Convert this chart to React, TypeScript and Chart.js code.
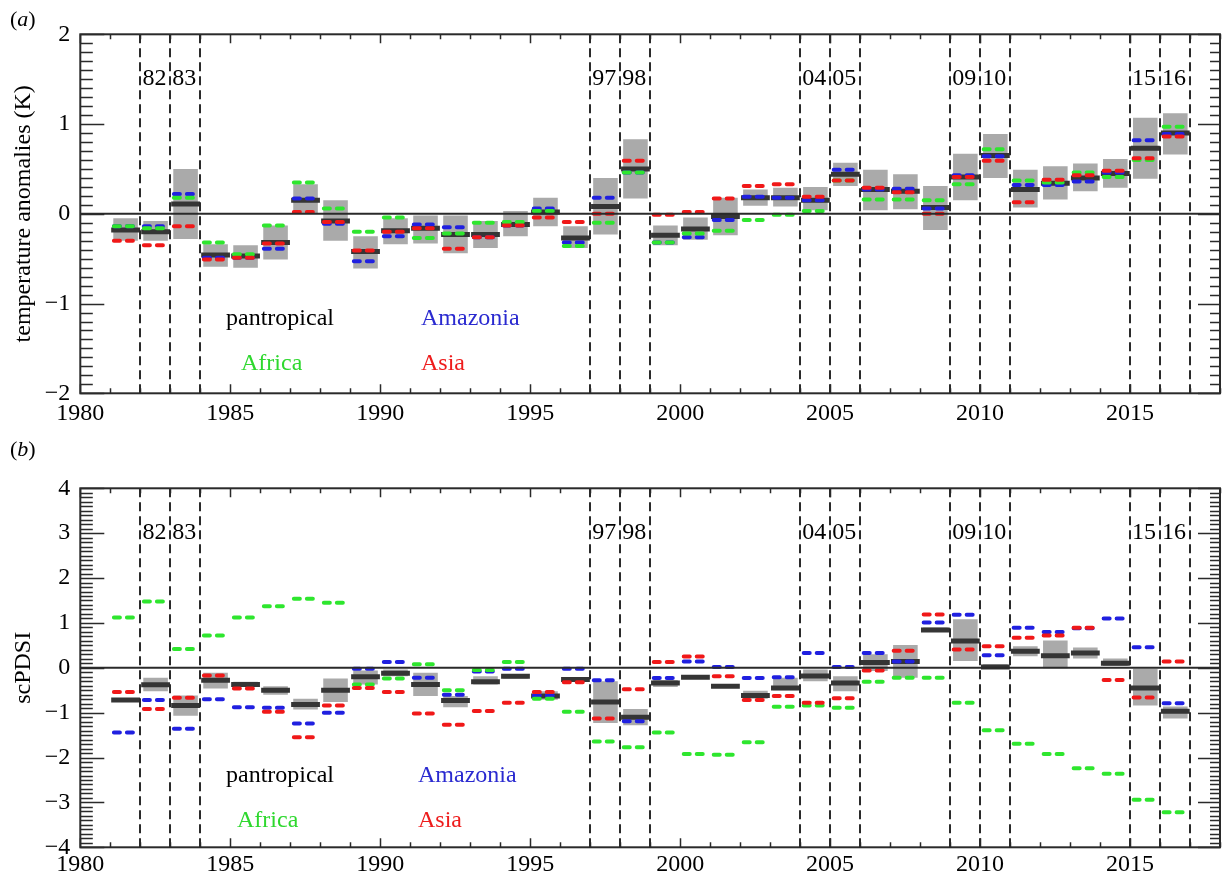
import React, { useEffect, useRef } from 'react';
import { Chart, registerables } from 'chart.js';

Chart.register(...registerables);

const FONT = "'Liberation Serif', 'DejaVu Serif', Tinos, 'Times New Roman', Times, serif";

// ---------------- data ----------------
const YEARS = [
  1981, 1982, 1983, 1984, 1985, 1986, 1987, 1988, 1989, 1990, 1991, 1992,
  1993, 1994, 1995, 1996, 1997, 1998, 1999, 2000, 2001, 2002, 2003, 2004,
  2005, 2006, 2007, 2008, 2009, 2010, 2011, 2012, 2013, 2014, 2015, 2016,
];
const EVENT_YEARS = [1982, 1983, 1997, 1998, 2004, 2005, 2009, 2010, 2015, 2016];
const X_TICKS = [1980, 1985, 1990, 1995, 2000, 2005, 2010, 2015];
const TEMP_Y_TICKS = [-2, -1, 0, 1, 2];
const PDSI_Y_TICKS = [-4, -3, -2, -1, 0, 1, 2, 3, 4];

// (a) temperature anomalies (K)
const TEMP_PANTROPICAL = [
  -0.18, -0.2, 0.11, -0.46, -0.47, -0.32, 0.15, -0.08, -0.42, -0.19, -0.16, -0.23,
  -0.23, -0.12, 0.02, -0.27, 0.08, 0.5, -0.24, -0.17, -0.03, 0.18, 0.18, 0.15,
  0.44, 0.27, 0.25, 0.07, 0.41, 0.65, 0.27, 0.34, 0.4, 0.45, 0.73, 0.9,
];
const TEMP_LOW = [
  -0.3, -0.3, -0.28, -0.59, -0.6, -0.51, 0.0, -0.3, -0.61, -0.34, -0.33, -0.44,
  -0.38, -0.25, -0.14, -0.38, -0.23, 0.17, -0.35, -0.29, -0.24, 0.09, 0.08, 0.04,
  0.31, 0.04, 0.05, -0.18, 0.15, 0.4, 0.07, 0.16, 0.25, 0.29, 0.39, 0.66,
];
const TEMP_HIGH = [
  -0.05, -0.08, 0.5, -0.34, -0.35, -0.13, 0.33, 0.15, -0.25, -0.05, -0.02, -0.02,
  -0.08, 0.03, 0.18, -0.14, 0.4, 0.83, -0.13, -0.04, 0.18, 0.27, 0.29, 0.3,
  0.57, 0.49, 0.44, 0.31, 0.67, 0.89, 0.49, 0.53, 0.56, 0.61, 1.07, 1.12,
];
const TEMP_AFRICA = [
  -0.14, -0.16, 0.18, -0.32, -0.45, -0.13, 0.35, 0.06, -0.2, -0.04, -0.27, -0.22,
  -0.1, -0.09, 0.03, -0.36, -0.1, 0.46, -0.32, -0.22, -0.19, -0.07, -0.01, 0.03,
  0.37, 0.16, 0.16, 0.15, 0.33, 0.72, 0.37, 0.35, 0.46, 0.41, 0.6, 0.97,
];
const TEMP_AMAZONIA = [
  -0.14, -0.14, 0.22, -0.49, -0.49, -0.39, 0.17, -0.11, -0.53, -0.25, -0.12, -0.15,
  -0.26, -0.13, 0.06, -0.32, 0.18, 0.46, -0.32, -0.26, -0.07, 0.19, 0.18, 0.15,
  0.49, 0.27, 0.28, 0.06, 0.43, 0.64, 0.32, 0.32, 0.36, 0.46, 0.82, 0.89,
];
const TEMP_ASIA = [
  -0.3, -0.35, -0.14, -0.51, -0.49, -0.33, 0.02, -0.09, -0.41, -0.2, -0.16, -0.39,
  -0.26, -0.13, -0.04, -0.09, 0.0, 0.59, -0.01, 0.02, 0.17, 0.31, 0.33, 0.19,
  0.37, 0.29, 0.24, 0.0, 0.41, 0.59, 0.13, 0.38, 0.43, 0.48, 0.62, 0.86,
];

// (b) scPDSI
const PDSI_PANTROPICAL = [
  -0.72, -0.38, -0.84, -0.28, -0.37, -0.5, -0.82, -0.5, -0.2, -0.12, -0.37, -0.73,
  -0.31, -0.19, -0.63, -0.26, -0.76, -1.1, -0.34, -0.21, -0.41, -0.62, -0.45, -0.18,
  -0.34, 0.12, 0.14, 0.84, 0.6, 0.02, 0.37, 0.27, 0.33, 0.1, -0.45, -0.97,
];
const PDSI_LOW = [
  -0.76, -0.52, -1.07, -0.46, -0.42, -0.6, -0.93, -0.76, -0.37, -0.19, -0.63, -0.88,
  -0.37, -0.24, -0.71, -0.3, -1.23, -1.28, -0.43, -0.25, -0.45, -0.69, -0.5, -0.3,
  -0.52, -0.07, -0.22, 0.8, 0.15, 0.0, 0.26, -0.01, 0.21, 0.04, -0.84, -1.13,
];
const PDSI_HIGH = [
  -0.68, -0.22, -0.62, -0.11, -0.31, -0.41, -0.69, -0.24, -0.06, -0.04, -0.11, -0.63,
  -0.19, -0.15, -0.52, -0.22, -0.3, -0.92, -0.27, -0.17, -0.37, -0.51, -0.22, -0.04,
  -0.19, 0.3, 0.51, 0.9, 1.08, 0.08, 0.48, 0.61, 0.45, 0.21, -0.02, -0.86,
];
const PDSI_AFRICA = [
  1.12, 1.48, 0.42, 0.72, 1.12, 1.37, 1.54, 1.45, -0.37, -0.24, 0.08, -0.5,
  -0.05, 0.13, -0.69, -0.98, -1.64, -1.77, -1.44, -1.92, -1.94, -1.66, -0.87, -0.84,
  -0.89, -0.31, -0.22, -0.22, -0.78, -1.39, -1.69, -1.92, -2.24, -2.36, -2.94, -3.22,
];
const PDSI_AMAZONIA = [
  -1.44, -0.72, -1.36, -0.7, -0.88, -0.89, -1.24, -1.0, -0.02, 0.13, -0.22, -0.6,
  -0.08, -0.02, -0.62, -0.02, -0.28, -1.19, -0.23, 0.14, 0.02, -0.23, -0.21, 0.33,
  0.02, 0.33, 0.14, 1.01, 1.18, 0.28, 0.89, 0.8, 0.88, 1.1, 0.46, -0.79,
];
const PDSI_ASIA = [
  -0.54, -0.92, -0.67, -0.17, -0.46, -0.98, -1.55, -0.84, -0.45, -0.54, -1.02, -1.27,
  -0.96, -0.78, -0.54, -0.32, -1.13, -0.48, 0.13, 0.25, -0.19, -0.72, -0.63, -0.78,
  -0.68, -0.06, 0.38, 1.19, 0.41, 0.48, 0.67, 0.72, 0.89, -0.27, -0.66, 0.14,
];

// ---------------- styles ----------------
const C_BOX = '#aaaaaa';
const C_PAN = '#353535';
const C_AFRICA = '#2ee62e';
const C_AMAZONIA = '#2020e0';
const C_ASIA = '#f01818';
const C_AXIS = '#2a2a2a';

function hseg(vals: number[], a: number, b: number) {
  const pts: { x: number; y: number | null }[] = [];
  YEARS.forEach((yr, i) => {
    pts.push({ x: yr + a, y: vals[i] }, { x: yr + b, y: vals[i] }, { x: yr + b + 0.02, y: null });
  });
  return pts;
}

function makeOverlay(minorStep: number) {
  return {
    id: 'overlay',
    afterDraw(chart: any) {
      const { ctx, chartArea: ca, scales } = chart;
      const xs = scales.x;
      const ys = scales.y;
      ctx.save();
      ctx.strokeStyle = C_AXIS;
      // zero line
      const y0 = ys.getPixelForValue(0);
      ctx.lineWidth = 2;
      ctx.beginPath();
      ctx.moveTo(ca.left, y0);
      ctx.lineTo(ca.right, y0);
      ctx.stroke();
      // dashed event lines
      const lines = new Set<number>();
      EVENT_YEARS.forEach((y) => {
        lines.add(y);
        lines.add(y + 1);
      });
      ctx.setLineDash([9, 5]);
      ctx.lineWidth = 2;
      lines.forEach((yr) => {
        const px = Math.round(xs.getPixelForValue(yr));
        ctx.beginPath();
        ctx.moveTo(px, ca.top);
        ctx.lineTo(px, ca.bottom);
        ctx.stroke();
      });
      ctx.setLineDash([]);
      // event labels
      ctx.fillStyle = '#000';
      ctx.font = `24px ${FONT}`;
      ctx.textAlign = 'center';
      ctx.textBaseline = 'alphabetic';
      EVENT_YEARS.forEach((yr) => {
        ctx.fillText(String(yr % 100).padStart(2, '0'), xs.getPixelForValue(yr + 0.47), ca.top + 50.5);
      });
      // frame
      ctx.lineWidth = 2;
      ctx.strokeRect(ca.left, ca.top, ca.right - ca.left, ca.bottom - ca.top);
      // y ticks (left + right)
      ctx.lineWidth = 1.5;
      const per = Math.round(1 / minorStep);
      const n0 = Math.round(ys.min / minorStep);
      const n1 = Math.round(ys.max / minorStep);
      ctx.beginPath();
      for (let k = n0; k <= n1; k++) {
        const py = Math.round(ys.getPixelForValue(k * minorStep)) + 0.5;
        const major = k % per === 0;
        ctx.moveTo(ca.left, py);
        ctx.lineTo(ca.left + (major ? 24 : 12.5), py);
        ctx.moveTo(ca.right, py);
        ctx.lineTo(ca.right - (major ? 22 : 10), py);
      }
      // x ticks (top + bottom)
      for (let yr = Math.ceil(xs.min); yr <= Math.floor(xs.max); yr++) {
        const px = Math.round(xs.getPixelForValue(yr)) + 0.5;
        const major = yr % 5 === 0;
        ctx.moveTo(px, ca.bottom);
        ctx.lineTo(px, ca.bottom - (major ? 9 : 5));
        ctx.moveTo(px, ca.top);
        ctx.lineTo(px, ca.top + (major ? 9 : 5));
      }
      ctx.stroke();
      ctx.restore();
    },
  };
}

interface PanelSpec {
  pan: number[];
  low: number[];
  high: number[];
  africa: number[];
  amazonia: number[];
  asia: number[];
  yMin: number;
  yMax: number;
  yTicks: number[];
  yTitle: string;
  padTop: number;
  xAxisHeight: number;
  xLabelPad: number;
}

const fmt = (v: number) => (v < 0 ? '\u2212' + String(Math.abs(v)) : String(v));

function buildConfig(p: PanelSpec): any {
  const lineBase = { type: 'line', pointRadius: 0, fill: false, tension: 0, spanGaps: false };
  const colored = (vals: number[], color: string, order: number) => ({
    ...lineBase,
    data: hseg(vals, 0.12, 0.88),
    borderColor: color,
    borderWidth: 4,
    borderDash: [6, 7],
    borderCapStyle: 'round',
    order,
  });
  return {
    type: 'line',
    data: {
      datasets: [
        {
          type: 'bar',
          data: YEARS.map((yr, i) => ({ x: yr + 0.51, y: [p.low[i], p.high[i]] })),
          backgroundColor: C_BOX,
          borderWidth: 0,
          categoryPercentage: 0.82,
          barPercentage: 1,
          grouped: false,
          order: 5,
        },
        {
          ...lineBase,
          data: hseg(p.pan, 0.03, 0.99),
          borderColor: C_PAN,
          borderWidth: 5,
          borderCapStyle: 'butt',
          order: 4,
        },
        colored(p.amazonia, C_AMAZONIA, 3),
        colored(p.africa, C_AFRICA, 2),
        colored(p.asia, C_ASIA, 1),
      ],
    },
    options: {
      responsive: false,
      animation: false,
      devicePixelRatio: 1,
      events: [],
      layout: { padding: { left: 0, right: 3, top: p.padTop, bottom: 0 } },
      plugins: { legend: { display: false }, tooltip: { enabled: false }, title: { display: false } },
      scales: {
        x: {
          type: 'linear',
          min: 1980,
          max: 2018,
          offset: false,
          afterBuildTicks: (s: any) => {
            s.ticks = X_TICKS.map((v) => ({ value: v }));
          },
          afterFit: (s: any) => {
            s.height = p.xAxisHeight;
          },
          grid: { display: false, drawTicks: false },
          border: { display: false },
          ticks: {
            autoSkip: false,
            maxRotation: 0,
            padding: p.xLabelPad,
            color: '#000',
            font: { size: 24, family: FONT },
            callback: (v: number) => String(v),
          },
        },
        y: {
          type: 'linear',
          min: p.yMin,
          max: p.yMax,
          afterBuildTicks: (s: any) => {
            s.ticks = p.yTicks.map((v) => ({ value: v }));
          },
          afterFit: (s: any) => {
            s.width = 80.3;
          },
          grid: { display: false, drawTicks: false },
          border: { display: false },
          ticks: {
            autoSkip: false,
            padding: 10,
            color: '#000',
            font: { size: 24, family: FONT },
            callback: (v: number) => fmt(v),
          },
          title: {
            display: true,
            text: p.yTitle,
            color: '#000',
            font: { size: 24, family: FONT },
            padding: { top: 9, bottom: 0 },
          },
        },
      },
    },
    plugins: [makeOverlay(0.1)],
  };
}

const legendStyle = (left: number, top: number, color: string): React.CSSProperties => ({
  position: 'absolute',
  left,
  top,
  fontFamily: FONT,
  fontSize: 24,
  lineHeight: '24px',
  color,
  whiteSpace: 'nowrap',
});

const panelLabelStyle = (top: number): React.CSSProperties => ({
  position: 'absolute',
  left: 10,
  top,
  fontFamily: FONT,
  fontSize: 22,
  lineHeight: '22px',
  color: '#000',
});

export default function App() {
  const refA = useRef<HTMLCanvasElement | null>(null);
  const refB = useRef<HTMLCanvasElement | null>(null);

  useEffect(() => {
    Chart.defaults.font.family = FONT;
    const a = new Chart(
      refA.current as HTMLCanvasElement,
      buildConfig({
        pan: TEMP_PANTROPICAL,
        low: TEMP_LOW,
        high: TEMP_HIGH,
        africa: TEMP_AFRICA,
        amazonia: TEMP_AMAZONIA,
        asia: TEMP_ASIA,
        yMin: -2,
        yMax: 2,
        yTicks: TEMP_Y_TICKS,
        yTitle: 'temperature anomalies (K)',
        padTop: 34.3,
        xAxisHeight: 46.7,
        xLabelPad: 6,
      })
    );
    const b = new Chart(
      refB.current as HTMLCanvasElement,
      buildConfig({
        pan: PDSI_PANTROPICAL,
        low: PDSI_LOW,
        high: PDSI_HIGH,
        africa: PDSI_AFRICA,
        amazonia: PDSI_AMAZONIA,
        asia: PDSI_ASIA,
        yMin: -4,
        yMax: 4,
        yTicks: PDSI_Y_TICKS,
        yTitle: 'scPDSI',
        padTop: 48.3,
        xAxisHeight: 29.7,
        xLabelPad: 3,
      })
    );
    return () => {
      a.destroy();
      b.destroy();
    };
  }, []);

  return (
    <div style={{ position: 'absolute', left: 0, top: 0, width: 1223, height: 877, background: '#fff', overflow: 'hidden' }}>
      <canvas
        ref={refA}
        width={1223}
        height={440}
        style={{ position: 'absolute', left: 0, top: 0, width: 1223, height: 440 }}
      />
      <canvas
        ref={refB}
        width={1223}
        height={437}
        style={{ position: 'absolute', left: 0, top: 440, width: 1223, height: 437 }}
      />
      <div style={panelLabelStyle(8.3)}>
        (<i>a</i>)
      </div>
      <div style={panelLabelStyle(437.6)}>
        (<i>b</i>)
      </div>
      <div style={legendStyle(226, 305.4, '#000')}>pantropical</div>
      <div style={legendStyle(241, 350, '#2ed82e')}>Africa</div>
      <div style={legendStyle(421, 305.4, '#2a2ad0')}>Amazonia</div>
      <div style={legendStyle(421, 350, '#ee1c1c')}>Asia</div>
      <div style={legendStyle(226, 762.4, '#000')}>pantropical</div>
      <div style={legendStyle(237, 807.4, '#2ed82e')}>Africa</div>
      <div style={legendStyle(418, 762.4, '#2a2ad0')}>Amazonia</div>
      <div style={legendStyle(418, 807.4, '#ee1c1c')}>Asia</div>
    </div>
  );
}
